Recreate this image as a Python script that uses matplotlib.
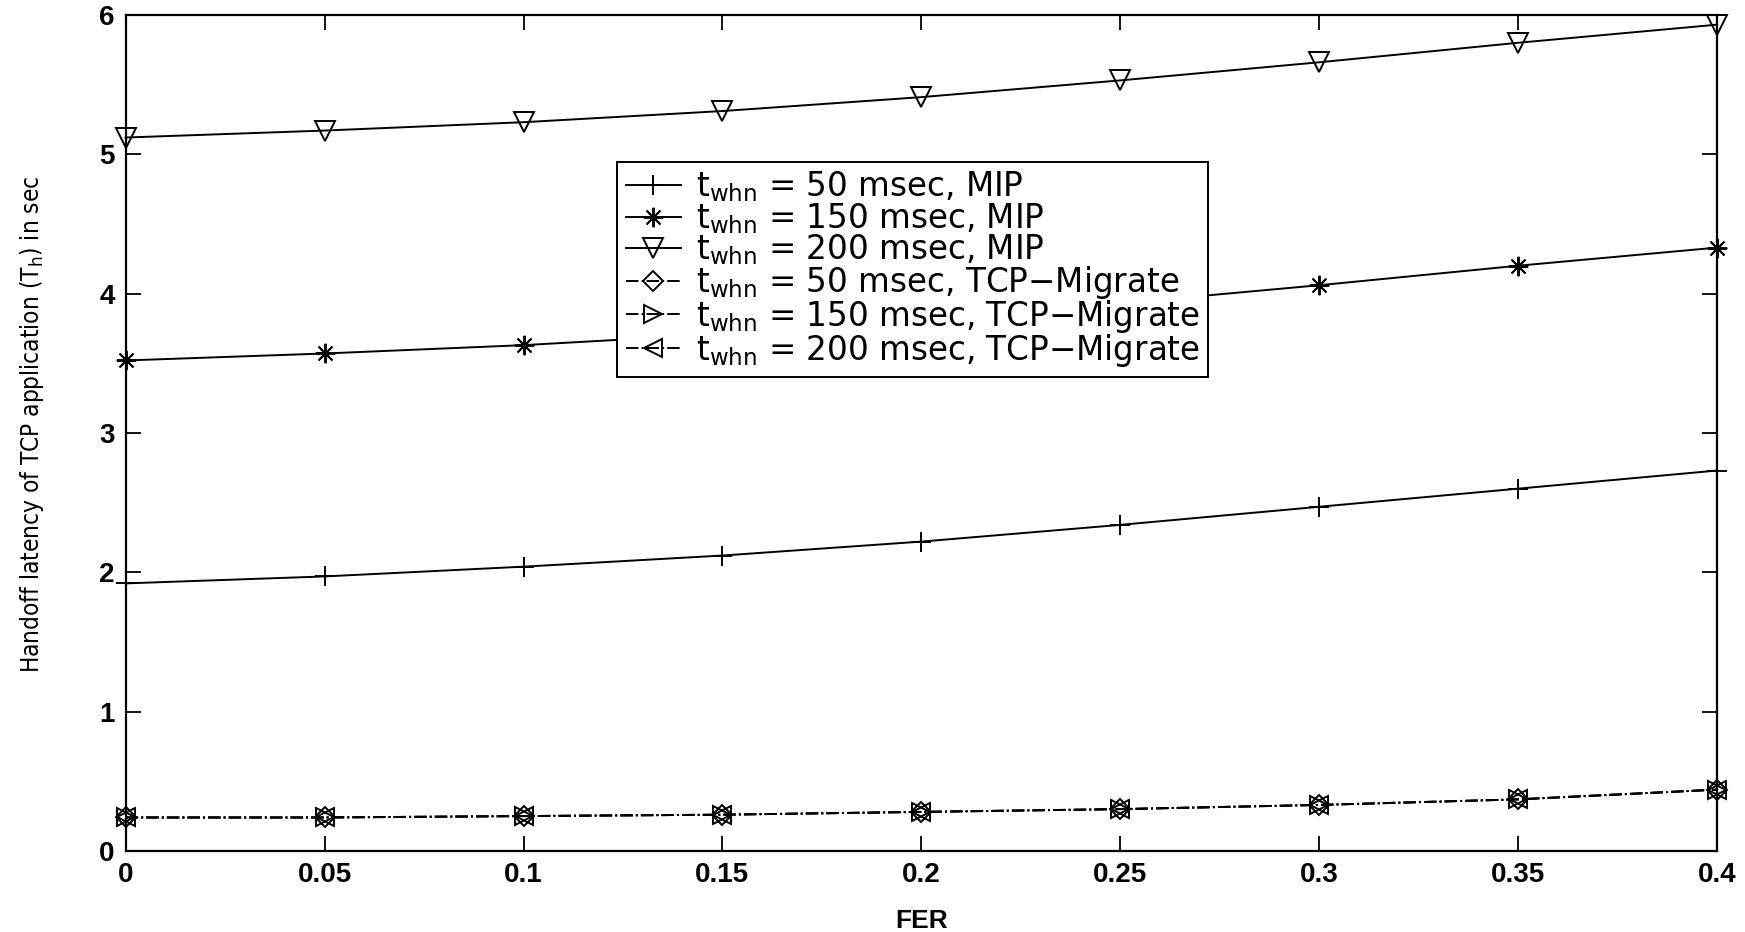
import numpy as np
import matplotlib
matplotlib.use("Agg")
import matplotlib.pyplot as plt

plt.rcParams['font.family'] = ['Liberation Sans', 'DejaVu Sans']
plt.rcParams['mathtext.fontset'] = 'custom'
plt.rcParams['mathtext.rm'] = 'DejaVu Sans'
plt.rcParams['mathtext.it'] = 'DejaVu Sans'

# --- data ---------------------------------------------------------------
fer = [0, 0.05, 0.1, 0.15, 0.2, 0.25, 0.3, 0.35, 0.4]
mip_50 = [1.92, 1.97, 2.04, 2.12, 2.22, 2.34, 2.47, 2.60, 2.73]
mip_150 = [3.52, 3.57, 3.63, 3.71, 3.81, 3.93, 4.06, 4.20, 4.33]
mip_200 = [5.12, 5.17, 5.23, 5.31, 5.41, 5.53, 5.66, 5.80, 5.93]
tcp_50 = [0.24, 0.24, 0.25, 0.26, 0.28, 0.30, 0.33, 0.37, 0.44]
tcp_150 = [0.24, 0.24, 0.25, 0.26, 0.28, 0.30, 0.33, 0.37, 0.44]
tcp_200 = [0.24, 0.24, 0.25, 0.26, 0.28, 0.30, 0.33, 0.37, 0.44]

labels = [
    r"$\mathrm{t}_{\mathrm{whn}}$ = 50 msec, MIP",
    r"$\mathrm{t}_{\mathrm{whn}}$ = 150 msec, MIP",
    r"$\mathrm{t}_{\mathrm{whn}}$ = 200 msec, MIP",
    r"$\mathrm{t}_{\mathrm{whn}}$ = 50 msec, TCP−Migrate",
    r"$\mathrm{t}_{\mathrm{whn}}$ = 150 msec, TCP−Migrate",
    r"$\mathrm{t}_{\mathrm{whn}}$ = 200 msec, TCP−Migrate",
]
x_ticks = [0, 0.05, 0.1, 0.15, 0.2, 0.25, 0.3, 0.35, 0.4]
x_tick_labels = ['0', '0.05', '0.1', '0.15', '0.2', '0.25', '0.3', '0.35', '0.4']
y_ticks = [0, 1, 2, 3, 4, 5, 6]

K = 'black'
ASTERISK = (8, 2, 0)   # matlab-style '*' (plus + cross)

fig = plt.figure(figsize=(17.45, 9.32), dpi=100)
ax = fig.add_axes([0.072, 0.087, 0.912, 0.897])

kw = dict(color=K, lw=1.4, markerfacecolor='none', markeredgecolor=K,
          markeredgewidth=1.4, clip_on=False)
ax.plot(fer, mip_50, '-', marker='+', ms=15, label=labels[0], **kw)
ax.plot(fer, mip_150, '-', marker=ASTERISK, ms=14, label=labels[1], **kw)
ax.plot(fer, mip_200, '-', marker='v', ms=15, label=labels[2], **kw)
ax.plot(fer, tcp_50, '-.', marker='D', ms=10, label=labels[3], **kw)
ax.plot(fer, tcp_150, '-.', marker='>', ms=13, label=labels[4], **kw)
ax.plot(fer, tcp_200, '-.', marker='<', ms=13, label=labels[5], **kw)

ax.set_xlim(0, 0.4)
ax.set_ylim(0, 6)
ax.set_xticks(x_ticks)
ax.set_xticklabels(x_tick_labels)
ax.set_yticks(y_ticks)
ax.tick_params(direction='in', length=11, width=1.3, top=True, right=True,
               labelsize=20, pad=8)
for lab in ax.get_xticklabels() + ax.get_yticklabels():
    lab.set_fontweight('bold')
for s in ax.spines.values():
    s.set_linewidth(1.6)

ax.set_xlabel('FER', fontsize=19, fontweight='bold', labelpad=15)
ax.set_ylabel(r"Handoff latency of TCP application (T$_\mathrm{h}$) in sec",
              fontsize=17.5, family='DejaVu Sans', fontstretch='condensed')
ax.yaxis.set_label_coords(-0.050, 0.51)

leg = ax.legend(loc='upper left', bbox_to_anchor=(0.309, 0.8245),
                prop=dict(family='DejaVu Sans', size=23.5),
                frameon=True, fancybox=False, framealpha=1,
                handlelength=1.7, borderpad=0.25, labelspacing=-0.1,
                handletextpad=0.45, borderaxespad=0)
leg.get_frame().set_edgecolor(K)
leg.get_frame().set_linewidth(1.4)

fig.savefig('out.png', dpi=100)
